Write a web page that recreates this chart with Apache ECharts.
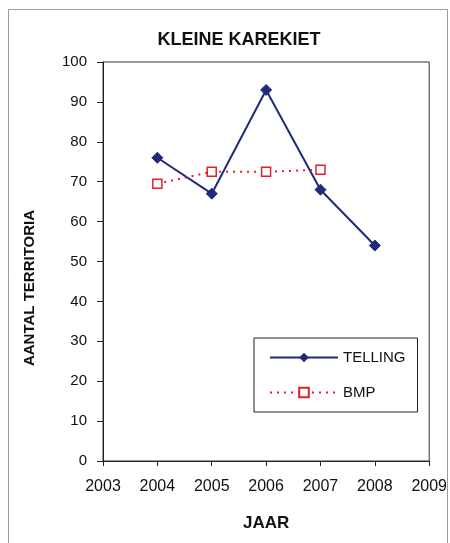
<!DOCTYPE html>
<html><head><meta charset="utf-8">
<script src="https://cdn.jsdelivr.net/npm/echarts@6/dist/echarts.min.js"></script>
<style>html,body{margin:0;padding:0;background:#fff}#c{width:450px;height:543px}</style>
</head><body><div id="c"></div>
<script>
const years = [2004, 2005, 2006, 2007, 2008];
const telling = [76, 67, 93, 68, 54];
const bmpYears = [2004, 2005, 2006, 2007];
const bmp = [69.5, 72.5, 72.5, 73];
const yTicks = [0,10,20,30,40,50,60,70,80,90,100];

const chart = echarts.init(document.getElementById('c'));
const font = '"Liberation Sans", Arial, sans-serif';
chart.setOption({
  animation: false,
  backgroundColor: '#fff',
  graphic: [{
    type: 'rect', shape: {x: 8.5, y: 9.5, width: 439, height: 540},
    style: {fill: 'none', stroke: '#9a9a9a', lineWidth: 1}, silent: true
  }, {
    type: 'text', x: 30, y: 288, rotation: Math.PI / 2,
    style: {text: 'AANTAL TERRITORIA', fontFamily: font, fontSize: 15, fontWeight: 'bold',
      fill: '#111', align: 'center', verticalAlign: 'middle'}, silent: true
  }],
  title: {
    text: 'KLEINE KAREKIET', left: 234, top: 26, textAlign: 'center',
    textStyle: {fontFamily: font, fontSize: 18, fontWeight: 'bold', color: '#111'}
  },
  grid: {left: 103, right: 16, top: 62, bottom: 82, show: true, borderColor: '#333', borderWidth: 1},
  legend: {
    orient: 'vertical', left: 254, top: 338, width: 150,
    data: ['TELLING', 'BMP'],
    itemWidth: 68, itemHeight: 12, itemGap: 20,
    padding: [12, 12, 12, 15],
    borderColor: '#222', borderWidth: 1,
    textStyle: {fontFamily: font, fontSize: 15, color: '#111'}
  },
  xAxis: {
    type: 'value', min: 2003, max: 2009, interval: 1,
    name: 'JAAR', nameLocation: 'middle', nameGap: 54,
    nameTextStyle: {fontFamily: font, fontSize: 17, fontWeight: 'bold', color: '#111'},
    axisLine: {show: true, lineStyle: {color: '#222'}},
    axisTick: {show: true, inside: false, length: 5, lineStyle: {color: '#222'}},
    axisLabel: {fontFamily: font, fontSize: 16, color: '#111', margin: 18,
      showMaxLabel: true, showMinLabel: true, formatter: v => String(v)},
    splitLine: {show: false}
  },
  yAxis: {
    type: 'value', min: 0, max: 100, interval: 10,
    axisLine: {show: true, lineStyle: {color: '#222'}},
    axisTick: {show: true, inside: false, length: 6, lineStyle: {color: '#222'}},
    axisLabel: {fontFamily: font, fontSize: 15, color: '#111', margin: 16,
      formatter: v => yTicks.includes(v) ? String(v) : ''},
    splitLine: {show: false}
  },
  series: [{
    name: 'TELLING', type: 'line',
    data: years.map((y, i) => [y, telling[i]]),
    symbol: 'diamond', symbolSize: 11,
    lineStyle: {color: '#1f2a7a', width: 2},
    itemStyle: {color: '#1f2a7a', borderColor: '#1f2a7a'}
  }, {
    name: 'BMP', type: 'line',
    data: bmpYears.map((y, i) => [y, bmp[i]]),
    symbol: 'rect', symbolSize: 9,
    lineStyle: {color: '#e0202a', width: 2, type: [2, 5]},
    itemStyle: {color: '#fff', borderColor: '#e0202a', borderWidth: 1.5}
  }]
});
</script></body></html>
